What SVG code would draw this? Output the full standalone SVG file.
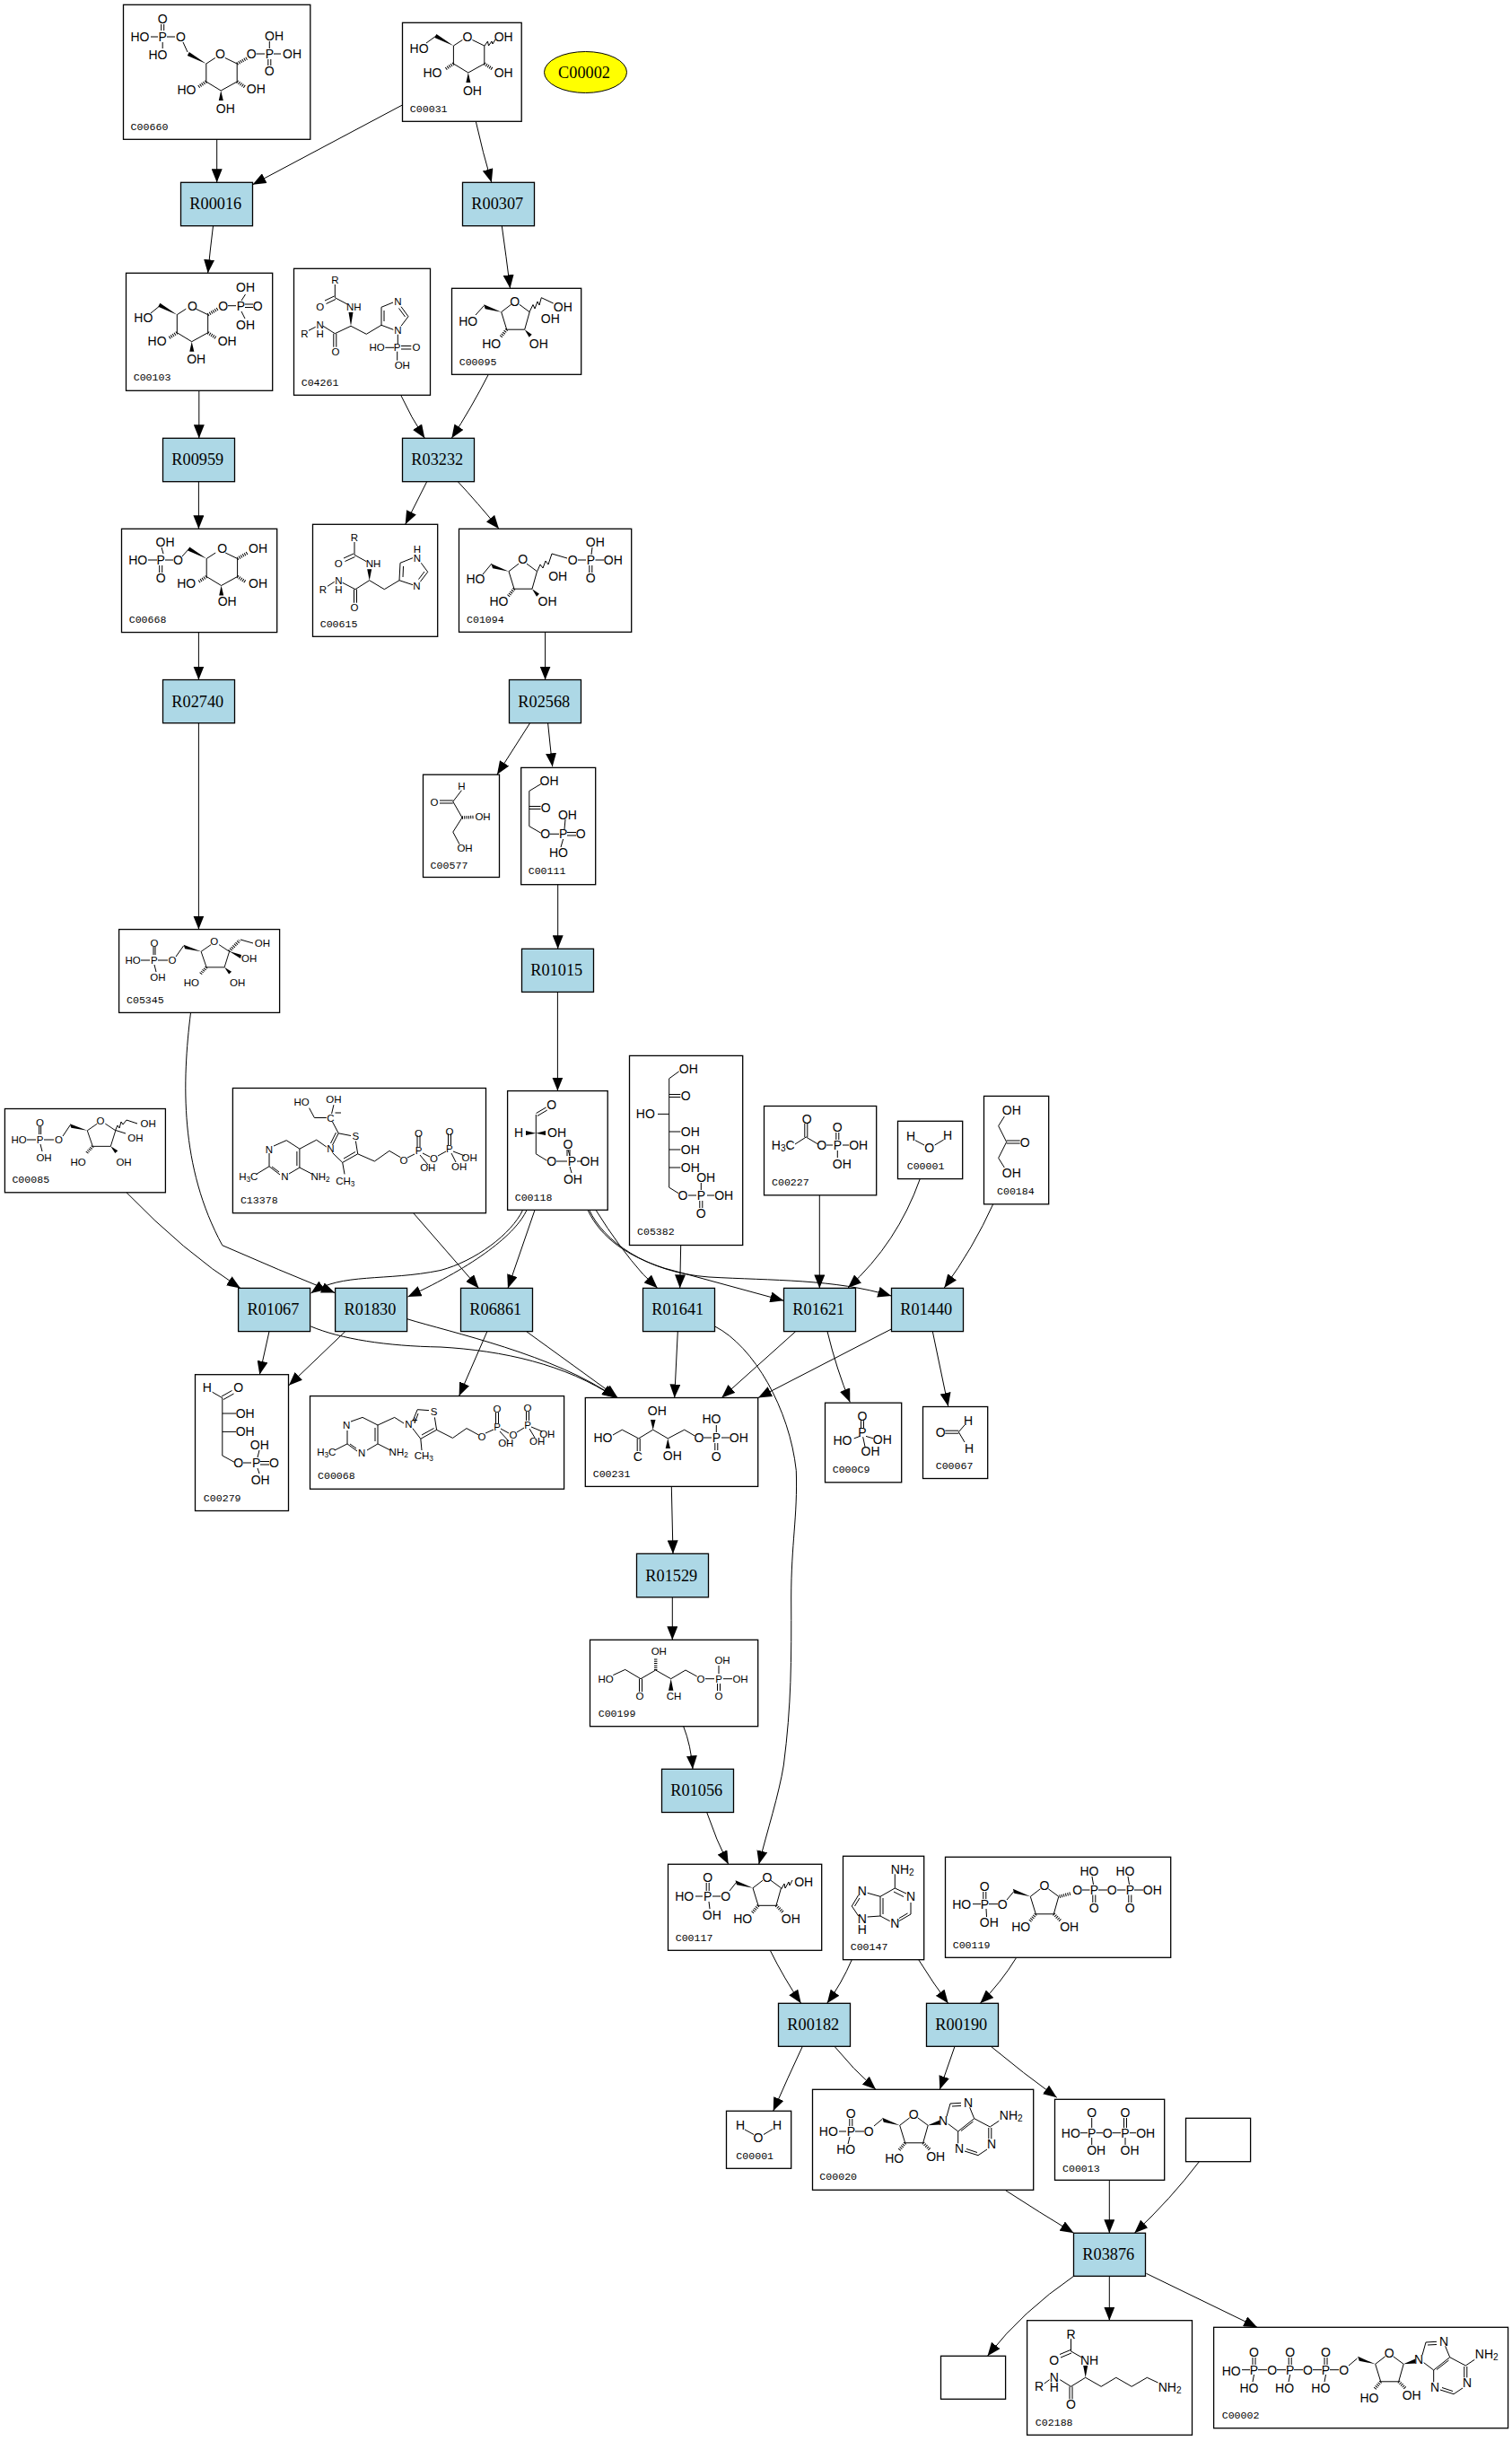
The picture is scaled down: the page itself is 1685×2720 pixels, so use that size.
<svg xmlns="http://www.w3.org/2000/svg" width="1685" height="2720" viewBox="0 0 1685 2720">
<style>
rect.c{fill:#fff;stroke:#000;stroke-width:1.3}
rect.r{fill:#add8e6;stroke:#000;stroke-width:1.3}
ellipse{fill:#ff0;stroke:#000;stroke-width:1}
.t{font-family:"Liberation Serif",serif;font-size:18.3px;text-anchor:middle;fill:#000;opacity:.99}
.l{font-family:"Liberation Mono",monospace;font-size:11.6px;fill:#000;opacity:.99}
.a{font-family:"Liberation Sans",sans-serif;font-size:14px;text-anchor:middle;dominant-baseline:central;fill:#000;opacity:.99}
.s{font-family:"Liberation Sans",sans-serif;font-size:11.5px;text-anchor:middle;dominant-baseline:central;fill:#000;opacity:.99}
.b{fill:none;stroke:#000;stroke-width:1}
.h{fill:none;stroke:#000;stroke-width:3.5;stroke-dasharray:1 1.3}
.e{fill:none;stroke:#000;stroke-width:1;marker-end:url(#ah)}
tspan.u{font-size:.72em}
</style>
<defs>
<marker id="ah" markerUnits="userSpaceOnUse" markerWidth="15" markerHeight="12" refX="15" refY="6" orient="auto"><path d="M0,0L15,6L0,12Z"/></marker>
<g id="pyr"><path class="b" d="M10,-6.5L0,0L0,20L16.4,30L34.4,20L34.4,0L21,-6.5"/><polygon points="16.4,30 14,41 19,41"/><polygon points="0,0 -19,-13 -21,-9"/><path class="h" d="M0,20L-9,26M34.4,20L43.5,26"/></g>
<g id="fur"><path class="b" d="M11,-8.5L0,0L6,19.5L26,19.5L31.5,0L20,-8.5"/><polygon points="0,0 -19.5,-8.5 -18,-3.5"/><path class="h" d="M6,19.5L-1,28"/></g>
<g id="fw"><use href="#fur"/><polygon points="26,19.5 31,28 34,25"/></g>
<g id="fh"><use href="#fur"/><path class="h" d="M26,19.5L34,27.5"/></g>
<g id="ado"><use href="#fh" x="1002.7" y="2368.3"/><polygon points="1034,2368.3 1047.3,2362.5 1047.3,2367.5"/><path class="b" d="M1055,2358.3L1059,2344L1071,2343.3M1061,2347L1071,2346.5M1080.7,2348.3L1085.7,2360.7L1103.3,2370L1113.3,2363.3M1101.8,2371L1101.8,2383.3M1104.8,2371L1104.8,2383.3M1100,2395L1090,2401.7L1075,2397M1089,2398.5L1077,2394.5M1067.7,2388.3L1067.7,2375L1085.7,2360.7M1071,2374.5L1084.5,2364M1056.7,2366.7L1067.7,2375"/></g>
</defs>
<g id="connectors">
<path class="e" d="M241.7,155.3L241.7,203.3"/>
<path class="e" d="M448.4,117L281.5,205.7"/>
<path class="e" d="M530.3,135.3Q538,170 547.8,203.3"/>
<path class="e" d="M237.5,251.7Q234,280 231.7,304.3"/>
<path class="e" d="M559.3,251.7Q564,285 568.5,321.3"/>
<path class="e" d="M221.8,435.3L221.8,488.3"/>
<path class="e" d="M446.7,440.3Q458,465 473.3,488.3"/>
<path class="e" d="M544.3,417.3Q525,455 503.3,488.3"/>
<path class="e" d="M475.7,536.7L451.7,584.3"/>
<path class="e" d="M510.3,536.7Q532,560 556,589.3"/>
<path class="e" d="M221.4,536.8L221.4,589.3"/>
<path class="e" d="M221.4,704.6L221.4,757.5"/>
<path class="e" d="M607.6,704.6L607.6,757.5"/>
<path class="e" d="M221.4,805.7L221.4,1035.6"/>
<path class="e" d="M590.6,805.7L554,863"/>
<path class="e" d="M610.6,805.7Q613,830 615.7,854.3"/>
<path class="e" d="M621.7,985.7L621.7,1057.3"/>
<path class="e" d="M621.4,1105.4L621.4,1215.6"/>
<path class="e" d="M212.5,1128.4C203,1205 200,1300 247.8,1387.7Q310,1415 373.2,1440.6"/>
<path class="e" d="M141,1328.8Q205,1395 267.9,1435.4"/>
<path class="e" d="M582.6,1348.3C570,1375 530,1405 491,1415.5C430,1428 380,1418 346.5,1441"/>
<path class="e" d="M587,1348.3C575,1375 530,1410 454.5,1445"/>
<path class="e" d="M596,1348.3L566,1435.4"/>
<path class="e" d="M460.7,1351.7L533.5,1435.4"/>
<path class="e" d="M300,1483.6L289.3,1531.7"/>
<path class="e" d="M384.8,1483.6L321.9,1543.8"/>
<path class="e" d="M542.9,1483.6L511.6,1555.6"/>
<path class="e" d="M346.4,1478C380,1492 430,1500 491,1501C560,1505 630,1520 686,1557.5"/>
<path class="e" d="M453.6,1469.7C500,1484 620,1510 686,1557.5"/>
<path class="e" d="M586.7,1483.7L688.3,1557.3"/>
<path class="e" d="M664,1348.3Q690,1390 716.7,1420L732.7,1435.3"/>
<path class="e" d="M655,1348.3C670,1380 700,1400 740,1413L873.3,1449.3"/>
<path class="e" d="M656.7,1348.3C672,1382 720,1418 790,1423C860,1427 930,1425 993.3,1444"/>
<path class="e" d="M758.7,1387.5L757.7,1435.3"/>
<path class="e" d="M913.3,1331.8L913.3,1435.4"/>
<path class="e" d="M1025.3,1313.6Q1000,1385 945,1435"/>
<path class="e" d="M1106.7,1341.8Q1085,1390 1052.3,1435"/>
<path class="e" d="M755.3,1483.6L751.7,1557.5"/>
<path class="e" d="M886.7,1483.6L804.3,1557.5"/>
<path class="e" d="M993.3,1481L845,1557.5"/>
<path class="e" d="M922,1483.6Q932,1525 947.3,1562.5"/>
<path class="e" d="M1039.3,1483.6L1056.7,1567"/>
<path class="e" d="M796.7,1478C840,1500 880,1570 887.3,1638.6C889,1690 881.7,1720 881.7,1780C882,1850 882,1900 873.3,1967C868,2000 855,2040 845.7,2077.3"/>
<path class="e" d="M748.3,1656.2L750,1731.3"/>
<path class="e" d="M749.3,1779.8L749.3,1827.3"/>
<path class="e" d="M761.7,1923.7Q770,1945 772,1971.3"/>
<path class="e" d="M787.7,2019.5Q798,2050 811.7,2077.3"/>
<path class="e" d="M858.3,2173.3Q874,2205 892.7,2232.3"/>
<path class="e" d="M949.3,2183.7Q938,2210 921.7,2232.3"/>
<path class="e" d="M1023.7,2183.7Q1040,2210 1056.7,2232.3"/>
<path class="e" d="M1132.7,2181.3Q1115,2210 1092.3,2232.3"/>
<path class="e" d="M894.3,2280.3Q878,2315 861.7,2352.3"/>
<path class="e" d="M930,2280.3Q950,2305 976,2328.3"/>
<path class="e" d="M1064,2280.3L1047.3,2328.3"/>
<path class="e" d="M1104.3,2280.3Q1140,2310 1177.7,2337.3"/>
<path class="e" d="M1120.6,2440.7Q1158,2465 1196.6,2488.3"/>
<path class="e" d="M1236.3,2429.3L1236.3,2488.3"/>
<path class="e" d="M1336.4,2408.7Q1305,2450 1264.3,2488.3"/>
<path class="e" d="M1196.6,2536.3Q1140,2575 1100.5,2625.3"/>
<path class="e" d="M1236.3,2536.3L1236.3,2585.7"/>
<path class="e" d="M1277.4,2533.3L1401,2593.3"/>
</g>
<g id="C00002y"><ellipse cx="652.5" cy="80.5" rx="46" ry="23"/><text class="t" x="651" y="86.5">C00002</text></g>
<g id="R00016"><rect class="r" x="201.5" y="203.3" width="80" height="48.4"/><text class="t" x="240.3" y="233.3">R00016</text></g>
<g id="R00307"><rect class="r" x="515.5" y="203.3" width="80" height="48.4"/><text class="t" x="554.3" y="233.3">R00307</text></g>
<g id="R00959"><rect class="r" x="181.5" y="488.3" width="80" height="48.4"/><text class="t" x="220.3" y="518.3">R00959</text></g>
<g id="R03232"><rect class="r" x="448.5" y="488.3" width="80" height="48.4"/><text class="t" x="487.3" y="518.3">R03232</text></g>
<g id="R02740"><rect class="r" x="181.5" y="757.5" width="80" height="48.2"/><text class="t" x="220.3" y="787.5">R02740</text></g>
<g id="R02568"><rect class="r" x="567.5" y="757.5" width="80" height="48.2"/><text class="t" x="606.3" y="787.5">R02568</text></g>
<g id="R01015"><rect class="r" x="581.5" y="1057.3" width="80" height="48.1"/><text class="t" x="620.3" y="1087.3">R01015</text></g>
<g id="R01067"><rect class="r" x="265.6" y="1435.4" width="80" height="48.2"/><text class="t" x="304.4" y="1465.4">R01067</text></g>
<g id="R01830"><rect class="r" x="373.6" y="1435.4" width="80" height="48.2"/><text class="t" x="412.4" y="1465.4">R01830</text></g>
<g id="R06861"><rect class="r" x="513.5" y="1435.4" width="80" height="48.2"/><text class="t" x="552.3" y="1465.4">R06861</text></g>
<g id="R01641"><rect class="r" x="716.5" y="1435.4" width="80" height="48.2"/><text class="t" x="755.3" y="1465.4">R01641</text></g>
<g id="R01621"><rect class="r" x="873.5" y="1435.4" width="80" height="48.2"/><text class="t" x="912.3" y="1465.4">R01621</text></g>
<g id="R01440"><rect class="r" x="993.5" y="1435.4" width="80" height="48.2"/><text class="t" x="1032.3" y="1465.4">R01440</text></g>
<g id="R01529"><rect class="r" x="709.5" y="1731.3" width="80" height="48.5"/><text class="t" x="748.3" y="1761.5">R01529</text></g>
<g id="R01056"><rect class="r" x="737.5" y="1971.3" width="80" height="48.2"/><text class="t" x="776.3" y="2001.3">R01056</text></g>
<g id="R00182"><rect class="r" x="867.5" y="2232.3" width="80" height="48"/><text class="t" x="906.3" y="2262.2">R00182</text></g>
<g id="R00190"><rect class="r" x="1032.5" y="2232.3" width="80" height="48"/><text class="t" x="1071.3" y="2262.2">R00190</text></g>
<g id="R03876"><rect class="r" x="1196.5" y="2488.3" width="80" height="48"/><text class="t" x="1235.3" y="2518.2">R03876</text></g>

<g id="C00660"><rect class="c" x="137.5" y="5.3" width="208.3" height="150"/>
<use href="#pyr" x="229.8" y="71"/>
<path class="b" d="M179.7,27L179.7,34M182.7,27L182.7,34M168,41L176,41M181.2,47L181.2,54M186,41L195,41M204,47L209,58M285.5,60L295,60M305,60L313,60M300.3,46L300.3,54M298.8,66L298.8,73M301.8,66L301.8,73"/>
<path class="h" d="M264.2,71L275,65"/>
<text class="a" x="181.2" y="21">O</text><text class="a" x="156" y="41">HO</text><text class="a" x="181.2" y="40.7">P</text><text class="a" x="201.5" y="41">O</text><text class="a" x="175.9" y="61">HO</text><text class="a" x="305.6" y="40">OH</text><text class="a" x="280.3" y="60">O</text><text class="a" x="300.3" y="60">P</text><text class="a" x="325.5" y="60">OH</text><text class="a" x="300.3" y="79">O</text><text class="a" x="245.5" y="60">O</text><text class="a" x="208" y="100">HO</text><text class="a" x="285.3" y="99">OH</text><text class="a" x="251.3" y="121">OH</text>
<text class="l" x="145.6" y="145">C00660</text></g>

<g id="C00031"><rect class="c" x="448.5" y="25.3" width="132.7" height="110"/>
<use href="#pyr" x="505.4" y="51"/>
<path class="b" d="M475,48L486,40M540,51L543.5,46L544.5,51L548,46L549,49L552,44"/>
<text class="a" x="467.1" y="53.7">HO</text><text class="a" x="521" y="41">O</text><text class="a" x="561.2" y="41">OH</text><text class="a" x="482" y="81">HO</text><text class="a" x="561.2" y="81">OH</text><text class="a" x="526.4" y="101">OH</text>
<text class="l" x="456.8" y="125">C00031</text></g>

<g id="C00103"><rect class="c" x="140.5" y="304.3" width="163.2" height="131"/>
<use href="#pyr" x="197.3" y="350.7"/>
<path class="b" d="M168,349L179,340M254,340.7L263,340.7M273.5,328L269,335M269,347L273,355M273,339L282,339M273,342.5L282,342.5"/>
<path class="h" d="M231.7,350.7L243,344"/>
<text class="a" x="159.8" y="354">HO</text><text class="a" x="214.5" y="340.7">O</text><text class="a" x="248.6" y="340.7">O</text><text class="a" x="268.5" y="340.7">P</text><text class="a" x="287.2" y="340.7">O</text><text class="a" x="273.5" y="320">OH</text><text class="a" x="273.5" y="361.7">OH</text><text class="a" x="175.1" y="380">HO</text><text class="a" x="253.2" y="380">OH</text><text class="a" x="218.7" y="400">OH</text>
<text class="l" x="148.7" y="424">C00103</text></g>

<g id="C00095"><rect class="c" x="503.5" y="321.3" width="144.2" height="96"/>
<use href="#fw" x="558.7" y="347.7"/>
<path class="b" d="M530,351L539.5,340.5M590,347.7L594,339.5L596,344L599,336L601,340L603.3,331.7L616.7,338"/>
<text class="a" x="521.7" y="357.7">HO</text><text class="a" x="573.7" y="336">O</text><text class="a" x="627.3" y="341.7">OH</text><text class="a" x="613.3" y="355">OH</text><text class="a" x="547.7" y="382.7">HO</text><text class="a" x="600.3" y="382.7">OH</text>
<text class="l" x="511.7" y="407">C00095</text></g>

<g id="C04261"><rect class="c" x="327.5" y="299.3" width="152" height="141"/>
<path class="b" d="M373.3,317L373.3,331.7L387,339M362,335L372.5,330M363.5,338.5L374,333.5M344,368.3L351.7,364.3M360,363.3L373.3,371.7L391,363.3L408.3,372.3L425,362.3L425,342.3L438,337M371.8,371.7L371.8,386.7M374.8,371.7L374.8,386.7M428,358L428,346M447,341.7L455,352.7L447,363.3M444.5,343.5L451.5,353M425,362.3L438.3,367.3M443.3,372.7L443.3,383.3M429.3,387.3L439.3,387.3M447,385.5L458.3,385.5M447,389L458.3,389M442.7,391.7L442.7,401.7"/>
<polygon points="391,363.3 388.5,348 393.5,348"/>
<text class="s" x="373.3" y="312.3">R</text><text class="s" x="356.7" y="341.7">O</text><text class="s" x="394.3" y="341.7">NH</text><text class="s" x="339.3" y="371.7">R</text><text class="s" x="356.7" y="361.7">N</text><text class="s" x="356.7" y="371.7">H</text><text class="s" x="374" y="391.7">O</text><text class="s" x="443.3" y="335.7">N</text><text class="s" x="443.3" y="368">N</text><text class="s" x="442.7" y="387.3">P</text><text class="s" x="420" y="387.3">HO</text><text class="s" x="464" y="387.3">O</text><text class="s" x="448.3" y="407.3">OH</text>
<text class="l" x="335.7" y="430">C04261</text></g>

<g id="C00668"><rect class="c" x="135.5" y="589.3" width="173.2" height="115.3"/>
<use href="#pyr" x="230.2" y="622.5"/>
<path class="b" d="M203,620L211,611M165,624L175,624M184,624L193,624M180,610L182,617M177.7,630L177.7,638M180.7,630L180.7,638"/>
<path class="h" d="M264.6,622.5L276,616"/>
<text class="a" x="184" y="604">OH</text><text class="a" x="153.7" y="624">HO</text><text class="a" x="179.2" y="624">P</text><text class="a" x="198.4" y="624">O</text><text class="a" x="179.2" y="643.6">O</text><text class="a" x="247.6" y="611">O</text><text class="a" x="287.6" y="611">OH</text><text class="a" x="207.7" y="650">HO</text><text class="a" x="287.6" y="650">OH</text><text class="a" x="253.2" y="670">OH</text>
<text class="l" x="143.7" y="694">C00668</text></g>

<g id="C00615"><rect class="c" x="348.5" y="584.3" width="139.2" height="125"/>
<path class="b" d="M395,604L395,618.3L408.3,625.7M383,622L394,617M384.5,625.5L395.5,620.5M365,653.3L372.7,648.3M381.7,649.3L396,656.7L411.7,646.7L428.3,656.7L445,646.7L446,627.3L460,621.7M394.5,656.7L394.5,671.7M397.5,656.7L397.5,671.7M449,643L449.5,631M469.3,627.3L476.7,637.3L468.3,648.3M473,637L466.5,645.5M445,646.7L460,651.7"/>
<polygon points="411.7,646.7 409.2,634.3 414.2,634.3"/>
<text class="s" x="395" y="599">R</text><text class="s" x="377.3" y="628.3">O</text><text class="s" x="416" y="628.3">NH</text><text class="s" x="360" y="656.7">R</text><text class="s" x="377.3" y="647.3">N</text><text class="s" x="377.3" y="657.3">H</text><text class="s" x="395" y="676.7">O</text><text class="s" x="465" y="622.3">N</text><text class="s" x="465" y="611.7">H</text><text class="s" x="464.3" y="653.3">N</text>
<text class="l" x="356.7" y="699">C00615</text></g>

<g id="C01094"><rect class="c" x="511.5" y="589.3" width="192.2" height="115"/>
<use href="#fw" x="567" y="636.7"/>
<path class="b" d="M538,640L548,628M598.7,636.7L602,629L605,633L608,625L611,629L615,617L632,622M644,624L653,624M663.5,624L673,624M660,610L659,618M656.8,630L656.8,638M659.8,630L659.8,638"/>
<text class="a" x="530" y="645">HO</text><text class="a" x="582.7" y="623.3">O</text><text class="a" x="638.3" y="624">O</text><text class="a" x="658.3" y="624">P</text><text class="a" x="683.3" y="624">OH</text><text class="a" x="663.3" y="604">OH</text><text class="a" x="658.3" y="644">O</text><text class="a" x="621.7" y="642">OH</text><text class="a" x="556" y="670">HO</text><text class="a" x="610" y="670">OH</text>
<text class="l" x="520" y="694">C01094</text></g>

<g id="C00577"><rect class="c" x="471.5" y="863.2" width="85" height="114.3"/>
<path class="b" d="M514.4,880.7L504.8,893.2L515,911L504.8,927.1L512,940.7M490,892L504.8,892M490,895L504.8,895"/>
<path class="h" d="M515,911L528.8,910.4"/>
<text class="s" x="514.4" y="876.4">H</text><text class="s" x="484" y="893.6">O</text><text class="s" x="538" y="910.4">OH</text><text class="s" x="518" y="945.4">OH</text>
<text class="l" x="479.6" y="968">C00577</text></g>

<g id="C00111"><rect class="c" x="580.7" y="855.4" width="83" height="130.3"/>
<path class="b" d="M602.8,873.6L589.8,881.4L589.8,920.7L602.8,928.2M589.8,898.5L602.5,898.5M589.8,901.5L602.5,901.5M612.5,929.3L623,929.3M630,913L629,924M632,927.5L642,927.5M632,931L642,931M627.6,935L625,944"/>
<text class="a" x="612" y="870.4">OH</text><text class="a" x="608.3" y="900">O</text><text class="a" x="607.6" y="929.3">O</text><text class="a" x="627.6" y="929.3">P</text><text class="a" x="647.2" y="929.3">O</text><text class="a" x="632.4" y="907.9">OH</text><text class="a" x="622.4" y="950">HO</text>
<text class="l" x="588.7" y="974">C00111</text></g>

<g id="C05345"><rect class="c" x="132.6" y="1035.6" width="179" height="92.8"/>
<use href="#fw" transform="translate(224.1,1060.3) scale(1,.9)"/>
<path class="b" d="M171,1055L171,1064M173,1055L173,1064M157,1070L167,1070M176,1070L187,1070M172,1075L174,1083M196,1066L204.5,1054M268,1047L282,1051"/>
<path class="h" d="M255.4,1059.9L267,1048"/>
<polygon points="255.4,1059.9 269,1064 268,1068"/>
<text class="s" x="171.9" y="1050.8">O</text><text class="s" x="171.9" y="1069.9">P</text><text class="s" x="148.2" y="1069.9">HO</text><text class="s" x="192" y="1070.3">O</text><text class="s" x="175.9" y="1089.4">OH</text><text class="s" x="238.8" y="1049">O</text><text class="s" x="292.4" y="1051.2">OH</text><text class="s" x="277.7" y="1067.7">OH</text><text class="s" x="213.4" y="1095">HO</text><text class="s" x="264.7" y="1095">OH</text>
<text class="l" x="141" y="1118">C05345</text></g>

<g id="C00085"><rect class="c" x="5.4" y="1235.5" width="179" height="93.3"/>
<use href="#fw" transform="translate(97.3,1259.8) scale(1,.9)"/>
<path class="b" d="M43.6,1255L43.6,1264M45.6,1255L45.6,1264M30,1270L40,1270M49,1270L60,1270M45,1275L47,1283M70,1266L78,1254M141,1248L153,1252"/>
<path class="b" d="M128.6,1259.4L131,1254L133,1257L135,1250L137,1253L141,1248"/>
<path class="b" d="M128.6,1259.4L140,1263"/>
<text class="s" x="44.6" y="1251">O</text><text class="s" x="44.6" y="1269.8">P</text><text class="s" x="21" y="1269.8">HO</text><text class="s" x="65.6" y="1270.2">O</text><text class="s" x="49" y="1289.7">OH</text><text class="s" x="112" y="1248.5">O</text><text class="s" x="165.2" y="1251.6">OH</text><text class="s" x="150.9" y="1267.6">OH</text><text class="s" x="87" y="1295.4">HO</text><text class="s" x="138" y="1295.4">OH</text>
<text class="l" x="13.4" y="1318">C00085</text></g>

<g id="C13378"><rect class="c" x="259.4" y="1212.5" width="282.1" height="139.2"/>
<path class="b" d="M344.6,1234.7L350.4,1245.5L363.8,1245.5M371.9,1231.2L369.6,1241M370.5,1250L377.2,1262.8L391,1265.5M377.2,1262.8L370.5,1276M374.5,1262L368.5,1274M370.5,1284.5L381.7,1295.4L398.7,1285.8L396.4,1271.5M383,1291L396,1283.5M398.7,1285.8L417.4,1294L433.9,1282.4L446.4,1289.7M454,1290L462,1286M465,1265L465,1278M468,1265L468,1278M468,1287L477,1298M471,1285L479,1289M488,1288L497,1283M499.5,1263L499.5,1276M502.5,1263L502.5,1276M503,1285L508,1295M505,1283L518,1288M305,1277L319.2,1270.7L333.9,1280.2L333.9,1301L322,1308M330.9,1283L330.9,1299M312,1309L300,1299.7L300,1285M311,1306L303,1300M300,1299.7L285.7,1308.4M333.9,1280.2L352.7,1270.2L363.8,1278M333.9,1301L348.2,1308.4M381.7,1295.4L384,1308.4M373.5,1240L380,1240"/>
<text class="s" x="336.2" y="1227.7">HO</text><text class="s" x="371.9" y="1225.1">OH</text><text class="s" x="368.3" y="1245.5">C</text><text class="s" x="396.4" y="1266.3">S</text><text class="s" x="368.3" y="1280.2">N</text><text class="s" x="450" y="1293.2">O</text><text class="s" x="466.5" y="1282.4">P</text><text class="s" x="466.5" y="1262.8">O</text><text class="s" x="483.5" y="1291">O</text><text class="s" x="500.9" y="1280.2">P</text><text class="s" x="500.9" y="1260.7">O</text><text class="s" x="476.8" y="1301">OH</text><text class="s" x="511.6" y="1299.7">OH</text><text class="s" x="523.2" y="1289.7">OH</text><text class="s" x="300" y="1280.6">N</text><text class="s" x="317.4" y="1310.5">N</text><text class="s" x="276.8" y="1311">H<tspan class="u" dy="3">3</tspan><tspan dy="-3">C</tspan></text><text class="s" x="357" y="1311">NH<tspan class="u" dy="3">2</tspan></text><text class="s" x="384.8" y="1315.8">CH<tspan class="u" dy="3">3</tspan></text>
<text class="l" x="267.9" y="1341">C13378</text></g>

<g id="C00118"><rect class="c" x="565.6" y="1215.6" width="111.6" height="132.7"/>
<path class="b" d="M597.5,1240.5L608.5,1234M598.8,1243.5L609.8,1237M597.3,1242L597.3,1285.8L609.4,1293.2M620,1294L632,1294M643,1294L649,1294M633,1281L635,1288M635,1300L637,1307M632,1281L632,1288M635,1281L635,1288"/>
<polygon points="597.3,1262.8 586,1260 586,1265"/><polygon points="597.3,1262.8 608,1260 608,1265"/>
<text class="a" x="614.7" y="1231.2">O</text><text class="a" x="578.1" y="1262">H</text><text class="a" x="620.5" y="1262">OH</text><text class="a" x="614.7" y="1294">O</text><text class="a" x="637.5" y="1294">P</text><text class="a" x="657.1" y="1294">OH</text><text class="a" x="633" y="1275.4">O</text><text class="a" x="638.4" y="1314">OH</text>
<text class="l" x="573.7" y="1338">C00118</text></g>

<g id="C05382"><rect class="c" x="701.5" y="1176.4" width="126.2" height="211.1"/>
<path class="b" d="M756.7,1193.9L745.7,1201.8L745.7,1323.2L756,1329.6M745.7,1219.5L758.3,1219.5M745.7,1222.5L758.3,1222.5M733,1241.4L745.7,1241.4M745.7,1261L758.3,1261M745.7,1281L758.3,1281M745.7,1301L758.3,1301M767,1332L776,1332M788,1332L796,1332M781.3,1318L781.3,1326M779.8,1338L779.8,1346M782.8,1338L782.8,1346"/>
<text class="a" x="767.3" y="1191">OH</text><text class="a" x="764.3" y="1221">O</text><text class="a" x="719.3" y="1241.4">HO</text><text class="a" x="769.3" y="1261">OH</text><text class="a" x="769.3" y="1281">OH</text><text class="a" x="769.3" y="1301">OH</text><text class="a" x="761" y="1332.1">O</text><text class="a" x="781.3" y="1332.1">P</text><text class="a" x="786.7" y="1312">OH</text><text class="a" x="806.7" y="1332.1">OH</text><text class="a" x="781.3" y="1352.1">O</text>
<text class="l" x="710" y="1376">C05382</text></g>

<g id="C00227"><rect class="c" x="851.5" y="1232.5" width="125.2" height="99.3"/>
<path class="b" d="M886,1275L898.3,1267L911.7,1275M896.8,1252L896.8,1267M899.8,1252L899.8,1267M921,1276L928,1276M939,1276L946,1276M931.8,1262L931.8,1270M934.8,1262L934.8,1270M933.3,1282L933.3,1290"/>
<text class="a" x="899.3" y="1247">O</text><text class="a" x="872.7" y="1276.4">H<tspan class="u" dy="3">3</tspan><tspan dy="-3">C</tspan></text><text class="a" x="915.7" y="1276">O</text><text class="a" x="933.3" y="1276">P</text><text class="a" x="956.7" y="1276">OH</text><text class="a" x="933.3" y="1256">O</text><text class="a" x="938.3" y="1297">OH</text>
<text class="l" x="860" y="1321">C00227</text></g>

<g id="C00001"><rect class="c" x="1000.5" y="1249.3" width="72.2" height="64.3"/>
<path class="b" d="M1020,1270.7L1030,1276M1041.7,1276L1051.7,1270"/>
<text class="a" x="1015" y="1266">H</text><text class="a" x="1056" y="1265.4">H</text><text class="a" x="1035.7" y="1278.6">O</text>
<text class="l" x="1010.7" y="1303">C00001</text></g>

<g id="C00184"><rect class="c" x="1096.5" y="1221.4" width="72.2" height="120.4"/>
<path class="b" d="M1119.3,1244L1112.7,1254.6L1121.7,1272.5L1112.7,1290.4L1119.3,1301M1121.7,1271L1136.7,1271M1121.7,1274L1136.7,1274"/>
<text class="a" x="1127.3" y="1237">OH</text><text class="a" x="1142.3" y="1272.5">O</text><text class="a" x="1127.3" y="1307">OH</text>
<text class="l" x="1111" y="1331">C00184</text></g>

<g id="C00279"><rect class="c" x="217.5" y="1531.7" width="104" height="151.8"/>
<path class="b" d="M236.6,1551.2L247.8,1557.7L247.8,1622L261.2,1629.3M247,1556L258.5,1549.5M249,1559.5L260.5,1553M247.8,1575L263,1575M247.8,1595.4L263,1595.4M271,1630L280,1630M289,1616L287,1624M287,1636L289,1642M290,1628.5L300,1628.5M290,1632L300,1632"/>
<text class="a" x="230.8" y="1546">H</text><text class="a" x="265.6" y="1546">O</text><text class="a" x="273.2" y="1575">OH</text><text class="a" x="273.2" y="1595.4">OH</text><text class="a" x="265.6" y="1630">O</text><text class="a" x="285.7" y="1630">P</text><text class="a" x="289.3" y="1610">OH</text><text class="a" x="290.2" y="1648.8">OH</text><text class="a" x="305.4" y="1630">O</text>
<text class="l" x="226.8" y="1673">C00279</text></g>

<g id="C00068"><rect class="c" x="345.5" y="1555.6" width="283.1" height="103.6"/>
<path class="b" d="M391,1584L404,1579.4L421,1588L421,1608.9L409,1616M418,1591L418,1606M398,1617L387,1608.9L387,1594M397,1614L390,1609M387,1608.9L373,1616M421,1588L439.7,1579.4L450,1586M421,1608.9L435,1616M459.8,1583.8L465.2,1570.7L478,1571.6M462,1586L466,1575M459.8,1591.6L468.8,1603.3L486.6,1593.3L484.4,1579.4M470,1599L483.5,1591.5M486.6,1593.3L504.5,1602.4L520,1591.6L533.5,1599M541,1597L550,1593M552.5,1574L552.5,1586M555.5,1574L555.5,1586M557,1595L567,1606M558,1592L567,1597M576,1596L584,1591M586.5,1573L586.5,1583M589.5,1573L589.5,1583M590,1592L596,1602M592,1590L604,1595M468.8,1603.3L470,1616"/>
<text class="s" x="386.2" y="1588">N</text><text class="s" x="403.1" y="1619.3">N</text><text class="s" x="363.8" y="1618.4">H<tspan class="u" dy="3">3</tspan><tspan dy="-3">C</tspan></text><text class="s" x="444.2" y="1618.4">NH<tspan class="u" dy="3">2</tspan></text><text class="s" x="455.4" y="1587.2">N</text><text class="s" x="483.5" y="1573">S</text><text class="s" x="462" y="1581.6">+</text><text class="s" x="537" y="1600.7">O</text><text class="s" x="554" y="1590.3">P</text><text class="s" x="554" y="1570">O</text><text class="s" x="571.9" y="1599">O</text><text class="s" x="588" y="1588">P</text><text class="s" x="588" y="1568.6">O</text><text class="s" x="563.8" y="1607.6">OH</text><text class="s" x="598.7" y="1606.3">OH</text><text class="s" x="609.8" y="1597.5">OH</text><text class="s" x="472.3" y="1622">CH<tspan class="u" dy="3">3</tspan></text>
<text class="l" x="354" y="1648">C00068</text></g>

<g id="C00231"><rect class="c" x="652.3" y="1557.5" width="192.4" height="98.9"/>
<path class="b" d="M683,1599L693.3,1593.2L711.7,1602.9L727.7,1593.2L744.3,1602.9L762.7,1593.2L774.3,1600M710.2,1603L710.2,1617M713.2,1603L713.2,1617M784,1602L793,1602M804,1602L813,1602M798.3,1588L798.3,1596M796.8,1608L796.8,1616M799.8,1608L799.8,1616"/>
<polygon points="727.7,1593.2 725,1582 730.5,1582"/><polygon points="744.3,1602.9 741.7,1614 747,1614"/>
<text class="a" x="671.9" y="1601.5">HO</text><text class="a" x="710.7" y="1622.5">C</text><text class="a" x="732.3" y="1572">OH</text><text class="a" x="749.3" y="1622">OH</text><text class="a" x="779" y="1602">O</text><text class="a" x="798.3" y="1602">P</text><text class="a" x="823.3" y="1602">OH</text><text class="a" x="793" y="1581.4">HO</text><text class="a" x="798.3" y="1622.5">O</text>
<text class="l" x="660.7" y="1646">C00231</text></g>

<g id="C00009"><rect class="c" x="919.5" y="1563.2" width="85.2" height="88.6"/>
<path class="b" d="M959.5,1583.2L959.5,1591M962.5,1583.2L962.5,1591M958.3,1600.4L951.7,1602.9M965,1600.4L973.3,1602.9M961.7,1601.2L964,1612"/>
<text class="a" x="961" y="1577.9">O</text><text class="a" x="961" y="1595.7">P</text><text class="a" x="939" y="1605">HO</text><text class="a" x="983.3" y="1604.3">OH</text><text class="a" x="970" y="1617.1">OH</text>
<text class="l" x="927.7" y="1641">C000C9</text></g>

<g id="C00067"><rect class="c" x="1028.5" y="1567.5" width="72.2" height="80"/>
<path class="b" d="M1053.3,1594.2L1068.3,1594.2M1053.3,1597.2L1068.3,1597.2M1068.3,1595.7L1075,1587.9M1068.3,1595.7L1075,1607"/>
<text class="a" x="1048.3" y="1595.7">O</text><text class="a" x="1079" y="1582.5">H</text><text class="a" x="1080" y="1613.6">H</text>
<text class="l" x="1042.7" y="1637">C00067</text></g>

<g id="C00199"><rect class="c" x="657.5" y="1827.3" width="187.2" height="96.4"/>
<path class="b" d="M683.3,1866.6L696.7,1860.4L714,1870.7L730.7,1861L747.7,1870.7L764,1861L776.7,1868M712.5,1870.7L712.5,1885.2M715.5,1870.7L715.5,1885.2M786,1870.7L796,1870.7M806,1870.7L816,1870.7M801,1856L801,1865M799.5,1876L799.5,1884M802.5,1876L802.5,1884"/>
<path class="h" d="M730.7,1861L730.7,1848"/>
<polygon points="747.7,1870.7 745,1883.8 750.4,1883.8"/>
<text class="s" x="675" y="1870.7">HO</text><text class="s" x="713" y="1890.3">O</text><text class="s" x="734.3" y="1840.4">OH</text><text class="s" x="751" y="1890.3">CH</text><text class="s" x="781" y="1870.7">O</text><text class="s" x="801" y="1870.7">P</text><text class="s" x="825" y="1870.7">OH</text><text class="s" x="805" y="1850.4">OH</text><text class="s" x="801" y="1890.3">O</text>
<text class="l" x="666.7" y="1913">C00199</text></g>

<g id="C00117"><rect class="c" x="744.5" y="2077.3" width="171.2" height="96"/>
<use href="#fh" x="839" y="2103.8"/>
<path class="b" d="M787.2,2098L787.2,2107M790.2,2098L790.2,2107M775,2113L783,2113M794,2113L803,2113M790,2119L791,2127M813,2107L821,2097M870.7,2104.9L874,2099L875,2104L879,2097L880,2101L883,2095"/>
<text class="a" x="788.7" y="2091.8">O</text><text class="a" x="788.7" y="2113">P</text><text class="a" x="762.7" y="2113">HO</text><text class="a" x="808.7" y="2113">O</text><text class="a" x="793.3" y="2134">OH</text><text class="a" x="855" y="2091.8">O</text><text class="a" x="827.7" y="2138.3">HO</text><text class="a" x="881.3" y="2138.3">OH</text><text class="a" x="895.7" y="2097.3">OH</text>
<text class="l" x="752.7" y="2163">C00117</text></g>

<g id="C00147"><rect class="c" x="939.5" y="2068.3" width="90.2" height="115.4"/>
<path class="b" d="M997.3,2088.3L997.3,2104L981,2113.3L981,2135L991.7,2140.7M984,2115L984,2133M997.3,2104L1010,2110M996,2108L1007,2113.5M1015,2120L1015,2133L1001.7,2140.7M1011.5,2132L1002,2137.5M966.7,2109.3L981,2113.3M966.7,2136L981,2135M956.7,2111.7L949.3,2124L956.7,2135M958,2115L952.5,2124"/>
<text class="a" x="1005.7" y="2083.3">NH<tspan class="u" dy="3">2</tspan></text><text class="a" x="1015" y="2113">N</text><text class="a" x="997.3" y="2143.3">N</text><text class="a" x="960.7" y="2107.3">N</text><text class="a" x="960.7" y="2138.3">N</text><text class="a" x="960.7" y="2150">H</text>
<text class="l" x="947.7" y="2173">C00147</text></g>

<g id="C00119"><rect class="c" x="1053.5" y="2069.3" width="251.2" height="112"/>
<use href="#fh" x="1148.3" y="2113.3"/>
<path class="b" d="M1095.8,2108L1095.8,2116M1098.8,2108L1098.8,2116M1084,2121.7L1093,2121.7M1102,2121.7L1112,2121.7M1099,2127L1099.5,2136M1122,2117L1130,2107.5M1206,2106L1214.5,2106M1224,2106L1234,2106M1245,2106L1254.5,2106M1264,2106L1274,2106M1217,2091L1218.5,2100M1217.8,2111.5L1217.8,2120M1220.8,2111.5L1220.8,2120M1257,2091L1258.5,2100M1257.8,2111.5L1257.8,2120M1260.8,2111.5L1260.8,2120"/>
<path class="h" d="M1180.7,2113.3L1192.7,2110"/>
<text class="a" x="1097.3" y="2102.3">O</text><text class="a" x="1097.3" y="2121.7">P</text><text class="a" x="1071.7" y="2121.7">HO</text><text class="a" x="1117.3" y="2121.7">O</text><text class="a" x="1102.3" y="2141.7">OH</text><text class="a" x="1164" y="2100.7">O</text><text class="a" x="1137.7" y="2147.3">HO</text><text class="a" x="1191.7" y="2147.3">OH</text><text class="a" x="1200.7" y="2106">O</text><text class="a" x="1219.3" y="2106">P</text><text class="a" x="1214" y="2085">HO</text><text class="a" x="1219.3" y="2126">O</text><text class="a" x="1239.3" y="2106">O</text><text class="a" x="1259.3" y="2106">P</text><text class="a" x="1254" y="2085">HO</text><text class="a" x="1259.3" y="2126">O</text><text class="a" x="1284.3" y="2106">OH</text>
<text class="l" x="1061.7" y="2171">C00119</text></g>

<g id="C00001b"><rect class="c" x="809.5" y="2352.3" width="72.2" height="64"/>
<path class="b" d="M830,2373L840,2378.5M851,2378.5L861,2372.5"/>
<text class="a" x="825" y="2368.3">H</text><text class="a" x="866" y="2368.3">H</text><text class="a" x="845" y="2382.3">O</text>
<text class="l" x="820.3" y="2406">C00001</text></g>

<g id="C00020"><rect class="c" x="905.5" y="2328.3" width="246.2" height="112"/>
<use href="#ado"/>
<path class="b" d="M946.8,2361L946.8,2369M949.8,2361L949.8,2369M935,2375L943,2375M953,2375L963,2375M947,2381L945,2389M974,2369L983,2361.5"/>
<text class="a" x="948.3" y="2355">O</text><text class="a" x="948.3" y="2375">P</text><text class="a" x="923.3" y="2375">HO</text><text class="a" x="968.3" y="2375">O</text><text class="a" x="942.7" y="2395">HO</text><text class="a" x="1018.3" y="2356">O</text><text class="a" x="996.7" y="2405">HO</text><text class="a" x="1042.7" y="2403.3">OH</text><text class="a" x="1051" y="2363.3">N</text><text class="a" x="1079" y="2343.3">N</text><text class="a" x="1126.7" y="2357.3">NH<tspan class="u" dy="3">2</tspan></text><text class="a" x="1105" y="2389.3">N</text><text class="a" x="1069" y="2394.3">N</text>
<text class="l" x="913.3" y="2429">C00020</text></g>

<g id="C00013"><rect class="c" x="1175.5" y="2339.3" width="122.2" height="90"/>
<path class="b" d="M1216.7,2360L1216.7,2371M1204,2376.7L1212,2376.7M1221.5,2376.7L1229,2376.7M1239.5,2376.7L1249,2376.7M1259,2376.7L1266,2376.7M1252.5,2360L1252.5,2371M1255.5,2360L1255.5,2371M1216.7,2382L1216.7,2390M1254,2382L1254,2390"/>
<text class="a" x="1216.7" y="2354">O</text><text class="a" x="1216.7" y="2376.7">P</text><text class="a" x="1193.3" y="2376.7">HO</text><text class="a" x="1234.3" y="2376.7">O</text><text class="a" x="1254" y="2376.7">P</text><text class="a" x="1276.7" y="2376.7">OH</text><text class="a" x="1254" y="2354">O</text><text class="a" x="1221.7" y="2396">OH</text><text class="a" x="1259" y="2396">OH</text>
<text class="l" x="1184" y="2420">C00013</text></g>

<g id="Cempty1"><rect class="c" x="1321.5" y="2360.3" width="72.1" height="48.4"/></g>
<g id="Cempty2"><rect class="c" x="1048.5" y="2625.3" width="72.1" height="48"/></g>

<g id="C02188"><rect class="c" x="1144.6" y="2585.7" width="183.9" height="127.6"/>
<path class="b" d="M1193.5,2606L1193.5,2620L1205.3,2626.7M1181,2623.5L1193,2618.5M1182,2627L1194,2622M1163.8,2656L1169.5,2651.7M1181.3,2651.7L1193.5,2659.3L1209.7,2649.3L1227.2,2659.3L1243.8,2649.3L1261.2,2659.3L1278.3,2649.3L1290.5,2655M1192,2659.3L1192,2673.3M1195,2659.3L1195,2673.3"/>
<polygon points="1209.7,2649.3 1207.2,2636 1212.2,2636"/>
<text class="a" x="1193.5" y="2600.7">R</text><text class="a" x="1174.7" y="2630">O</text><text class="a" x="1214" y="2630">NH</text><text class="a" x="1158.1" y="2659.3">R</text><text class="a" x="1174.7" y="2649.3">N</text><text class="a" x="1174.7" y="2660">H</text><text class="a" x="1193.5" y="2679">O</text><text class="a" x="1303.6" y="2660">NH<tspan class="u" dy="3">2</tspan></text>
<text class="l" x="1153.8" y="2703">C02188</text></g>

<g id="C00002"><rect class="c" x="1352.6" y="2593.3" width="328" height="112.4"/>
<use href="#ado" x="530" y="266"/>
<path class="b" d="M1384,2640.7L1393,2640.7M1402,2640.7L1412,2640.7M1423,2640.7L1433,2640.7M1442,2640.7L1452,2640.7M1463,2640.7L1473,2640.7M1482,2640.7L1492,2640.7M1396,2627L1396,2635M1399,2627L1399,2635M1436.2,2627L1436.2,2635M1439.2,2627L1439.2,2635M1476,2627L1476,2635M1479,2627L1479,2635M1397.5,2646L1396,2654M1437.7,2646L1436,2654M1477.5,2646L1476,2654M1503,2636L1512.5,2628"/>
<text class="a" x="1372.2" y="2641.7">HO</text><text class="a" x="1397.5" y="2640.7">P</text><text class="a" x="1397.5" y="2621">O</text><text class="a" x="1417.6" y="2640.7">O</text><text class="a" x="1437.7" y="2640.7">P</text><text class="a" x="1437.7" y="2621">O</text><text class="a" x="1457.4" y="2640.7">O</text><text class="a" x="1477.5" y="2640.7">P</text><text class="a" x="1477.5" y="2621">O</text><text class="a" x="1497.6" y="2640.7">O</text><text class="a" x="1391.9" y="2661">HO</text><text class="a" x="1431.6" y="2661">HO</text><text class="a" x="1471.8" y="2661">HO</text><text class="a" x="1548.3" y="2622">O</text><text class="a" x="1526" y="2671.7">HO</text><text class="a" x="1573.2" y="2669.3">OH</text><text class="a" x="1581" y="2629.3">N</text><text class="a" x="1609" y="2609.3">N</text><text class="a" x="1656.7" y="2623.3">NH<tspan class="u" dy="3">2</tspan></text><text class="a" x="1635" y="2655.3">N</text><text class="a" x="1599" y="2660.3">N</text>
<text class="l" x="1361.7" y="2695">C00002</text></g>
</svg>
